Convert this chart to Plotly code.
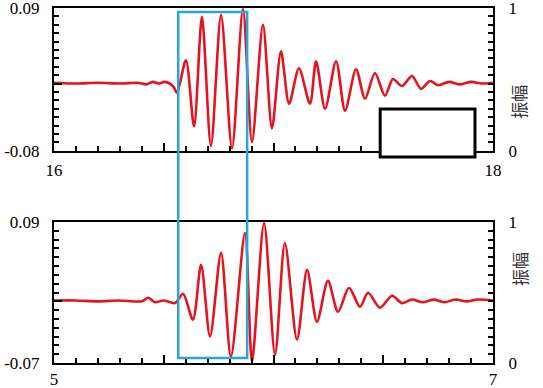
import plotly.graph_objects as go

# ---- data ----
top_t = [16.00, 16.10, 16.20, 16.30, 16.38, 16.42, 16.45, 16.48, 16.50, 16.52, 16.545, 16.560,
         16.601, 16.638, 16.674, 16.715, 16.761, 16.811, 16.861, 16.902, 16.952, 16.993,
         17.034, 17.071, 17.116, 17.166, 17.194, 17.235, 17.285, 17.326, 17.376, 17.417,
         17.462, 17.508, 17.544, 17.585, 17.631, 17.672, 17.713, 17.75, 17.80, 17.85,
         17.90, 17.95, 18.00]
top_v = [0.001, 0.000, 0.001, 0.000, 0.001, -0.001, 0.002, 0.000, 0.002, 0.001, -0.004, -0.011,
         0.0277, -0.051, 0.0794, -0.0745, 0.0818, -0.0769, 0.0888, -0.0698, 0.070, -0.0533,
         0.0383, -0.024, 0.0183, -0.024, 0.0266, -0.030, 0.0266, -0.0322, 0.0171, -0.0181,
         0.0125, -0.0146, 0.0054, -0.003, 0.0089, -0.0063, 0.003, -0.002, 0.002, -0.001,
         0.002, 0.000, 0.001]

bot_t = [5.00, 5.10, 5.20, 5.30, 5.40, 5.43, 5.46, 5.50, 5.551,
         5.588, 5.633, 5.670, 5.711, 5.761, 5.806, 5.870, 5.902, 5.957, 6.007,
         6.052, 6.107, 6.153, 6.198, 6.248, 6.294, 6.344, 6.394, 6.431, 6.485,
         6.540, 6.585, 6.63, 6.68, 6.73, 6.78, 6.83, 6.88, 6.93, 7.00]
bot_v = [0.001, 0.001, 0.000, 0.001, 0.000, 0.004, -0.001, 0.001, -0.002,
         0.0086, -0.0208, 0.0414, -0.040, 0.055, -0.0626, 0.0776, -0.0683, 0.0889, -0.0604,
         0.0663, -0.0434, 0.0357, -0.0231, 0.0233, -0.0118, 0.0154, -0.0061, 0.0097, -0.0072,
         0.0063, -0.002, 0.002, -0.001, 0.002, -0.001, 0.002, 0.000, 0.002, 0.001]

top_xticks = [16, 16.5, 17, 17.5, 18]
top_xlabels = ["16", "", "", "", "18"]
bot_xticks = [5, 5.5, 6, 6.5, 7]
bot_xlabels = ["5", "", "", "", "7"]
top_yticks = [-0.08, 0, 0.09]
top_ylabels = ["-0.08", "", "0.09"]
bot_yticks = [-0.07, 0, 0.09]
bot_ylabels = ["-0.07", "", "0.09"]
amp_ticks = [0, 1]
amp_title = "振幅"

RED = "#e3141f"
BLUE = "#2aa6d6"
FONT = dict(family="Liberation Serif, Times New Roman, serif", size=17, color="black")

fig = go.Figure()
fig.add_trace(go.Scatter(x=top_t, y=top_v, mode="lines", xaxis="x", yaxis="y",
                         line=dict(color=RED, width=2.6, shape="spline", smoothing=0.8),
                         showlegend=False, hoverinfo="skip"))
fig.add_trace(go.Scatter(x=[], y=[], xaxis="x", yaxis="y2", showlegend=False))
fig.add_trace(go.Scatter(x=bot_t, y=bot_v, mode="lines", xaxis="x2", yaxis="y3",
                         line=dict(color=RED, width=2.6, shape="spline", smoothing=0.8),
                         showlegend=False, hoverinfo="skip"))
fig.add_trace(go.Scatter(x=[], y=[], xaxis="x2", yaxis="y4", showlegend=False))

def xax(rng, ticks, labels, anchor, standoff):
    return dict(range=rng, tickvals=ticks, ticktext=labels, anchor=anchor,
                showgrid=False, zeroline=False, showline=True, linecolor="black", linewidth=2,
                mirror=True, ticks="inside", ticklen=8, tickwidth=1.5, tickcolor="black",
                tickfont=FONT, ticklabelstandoff=standoff, ticklabeloverflow="allow",
                minor=dict(dtick=0.1, tick0=rng[0], ticks="inside", ticklen=5,
                           tickwidth=1.5, tickcolor="black"))

def yax(rng, ticks, labels, dom, anchor):
    return dict(range=rng, domain=dom, anchor=anchor, tickvals=ticks, ticktext=labels,
                showgrid=False, zeroline=False, showline=True, linecolor="black", linewidth=2,
                ticks="inside", ticklen=8, tickwidth=1.5, tickcolor="black",
                tickfont=FONT, ticklabelstandoff=9, ticklabeloverflow="allow",
                minor=dict(dtick=0.01, tick0=0, ticks="inside", ticklen=5,
                           tickwidth=1.5, tickcolor="black"))

def rax(over, anchor, n):
    return dict(range=[0, 1], overlaying=over, side="right", anchor=anchor,
                tickvals=amp_ticks, ticktext=[str(t) for t in amp_ticks],
                showgrid=False, zeroline=False, showline=True, linecolor="black", linewidth=2,
                ticks="inside", ticklen=8, tickwidth=1.5, tickcolor="black",
                tickfont=FONT, ticklabelstandoff=10, ticklabeloverflow="allow",
                minor=dict(dtick=1.0 / n, tick0=0, ticks="inside", ticklen=5,
                           tickwidth=1.5, tickcolor="black"))

fig.update_layout(
    width=543, height=388,
    margin=dict(l=54, r=50, t=8, b=25, autoexpand=False),
    paper_bgcolor="white", plot_bgcolor="white",
    xaxis=xax([16, 18], top_xticks, top_xlabels, "y", 3),
    yaxis=yax([-0.08, 0.09], top_yticks, top_ylabels, [0.598, 1.0], "x"),
    yaxis2=rax("y", "x", 17),
    xaxis2=xax([5, 7], bot_xticks, bot_xlabels, "y3", 0),
    yaxis3=yax([-0.07, 0.09], bot_yticks, bot_ylabels, [0.0, 0.397], "x2"),
    yaxis4=rax("y3", "x2", 16),
)

# blue rectangle spanning both panels, black box in the top panel
fig.add_shape(type="rect", xref="paper", yref="paper", x0=0.283, x1=0.440, y0=0.014, y1=0.989,
              line=dict(color=BLUE, width=2.5), fillcolor="rgba(0,0,0,0)", layer="above")
fig.add_shape(type="rect", xref="paper", yref="paper", x0=0.743, x1=0.959, y0=0.580, y1=0.7155,
              line=dict(color="black", width=3), fillcolor="white", layer="above")

for yc in (0.789, 0.211):
    fig.add_annotation(text=amp_title, xref="paper", yref="paper", x=1.092, y=yc,
                       textangle=-90, showarrow=False,
                       font=dict(family="Noto Sans CJK SC", size=17, color="#333333"))

fig.write_html("out.html")
